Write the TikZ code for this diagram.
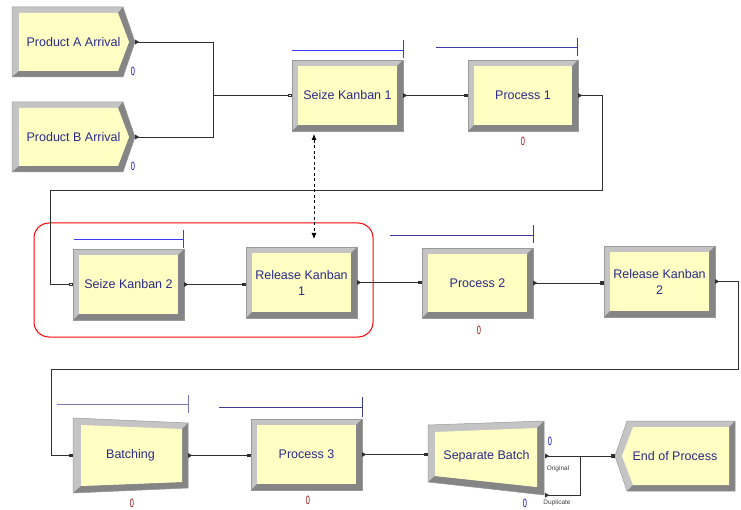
\documentclass[tikz,border=0pt]{standalone}
\usepackage{fontspec}
\setmainfont{Liberation Sans}
\usetikzlibrary{arrows.meta,calc}
\definecolor{bevlight}{HTML}{C4C4C4}
\definecolor{bevdark}{HTML}{858585}
\definecolor{bevedge}{HTML}{9A9A9A}
\definecolor{modfill}{HTML}{FFFFC4}
\definecolor{modtext}{HTML}{2A2A8A}
\definecolor{qbright}{HTML}{3A3AEE}
\definecolor{qdark}{HTML}{3C3C96}
\definecolor{cntblue}{HTML}{1010C0}
\definecolor{cntred}{HTML}{A01010}
\definecolor{linec}{HTML}{303030}
\tikzset{
  lbl/.style={inner sep=0pt, text=modtext, font=\fontsize{12.5}{16}\selectfont, align=center},
  conn/.style={draw=linec, line width=0.8pt, arrows={Triangle[reversed,length=4pt,width=4.5pt]-Square[length=3.5pt,width=3.5pt]}},
  connseize/.style={draw=linec, line width=0.8pt, arrows={Triangle[reversed,length=4pt,width=4.5pt]-Square[open,length=3.5pt,width=3.5pt]}},
  connfree/.style={draw=linec, line width=0.8pt, arrows={Triangle[reversed,length=4pt,width=4.5pt]-}},
  qbar/.style={line width=0.8pt},
  cnt/.style={inner sep=0pt, font=\fontsize{12}{12}\selectfont},
  small/.style={inner sep=0pt, text=black!75, font=\fontsize{6.5}{7}\selectfont},
  edge/.style={draw=bevedge, line width=0.5pt},
}
\newcommand\cz{\scalebox{0.62}[1]{0}}
\newcommand\bevrect[6]{%
  \fill[bevlight] (#2,#3) rectangle (#4,#5);
  \fill[bevdark] (#4,#3) -- (#4,#5) -- (#2,#5) -- ({#2+6},{#5-6}) -- ({#4-6},{#5-6}) -- ({#4-6},{#3+6}) -- cycle;
  \fill[modfill] ({#2+6},{#3+6}) rectangle ({#4-6},{#5-6});
  \draw[edge] (#2,#3) rectangle (#4,#5);
  \pgfmathsetmacro\bw{#4-#2}\pgfmathsetmacro\bh{#5-#3}%
  \node[lbl, minimum width=\bw pt, minimum height=\bh pt] (#1) at ({(#2+#4)/2},{(#3+#5)/2}) {#6};
}
\begin{document}
\begin{tikzpicture}[x=1pt,y=-1pt]
\useasboundingbox (0,0) rectangle (741,510);
\fill[white] (0,0) rectangle (741,510);

% ---------- Product A Arrival ----------
\fill[bevlight] (12,7) -- (123,7) -- (135,42) -- (123,77) -- (12,77) -- cycle;
\fill[bevdark] (123,7) -- (135,42) -- (123,77) -- (12,77) -- (19,71) -- (118,71) -- (129,42) -- (118,13) -- cycle;
\fill[modfill] (19,13) -- (118,13) -- (129,42) -- (118,71) -- (19,71) -- cycle;
\draw[edge] (12,7) -- (123,7) -- (135,42) -- (123,77) -- (12,77) -- cycle;
\node[lbl, minimum width=123pt, minimum height=70pt] (prodA) at (73.5,42) {Product A Arrival};
\node[cnt, text=cntblue] (cA) at (133,71) {\cz};

% ---------- Product B Arrival ----------
\fill[bevlight] (12,102) -- (123,102) -- (135,137) -- (123,172) -- (12,172) -- cycle;
\fill[bevdark] (123,102) -- (135,137) -- (123,172) -- (12,172) -- (19,166) -- (118,166) -- (129,137) -- (118,108) -- cycle;
\fill[modfill] (19,108) -- (118,108) -- (129,137) -- (118,166) -- (19,166) -- cycle;
\draw[edge] (12,102) -- (123,102) -- (135,137) -- (123,172) -- (12,172) -- cycle;
\node[lbl, minimum width=123pt, minimum height=70pt] (prodB) at (73.5,137) {Product B Arrival};
\node[cnt, text=cntblue] (cB) at (133,166) {\cz};

% ---------- rectangular modules ----------
\bevrect{seize1}{292}{60}{403}{131}{Seize Kanban 1}
\bevrect{proc1}{468}{60}{578}{131}{Process 1}
\bevrect{seize2}{73}{249}{184}{320}{Seize Kanban 2}
\bevrect{rel1}{246}{247}{357}{318}{Release Kanban\\1}
\bevrect{proc2}{422}{248}{533}{318}{Process 2}
\bevrect{rel2}{604}{246}{715}{317}{Release Kanban\\2}
\bevrect{proc3}{251}{419}{362}{490}{Process 3}

\node[cnt, text=cntred] (c1) at (523,141) {\cz};
\node[cnt, text=cntred] (c2) at (479,330) {\cz};
\node[cnt, text=cntred] (c3) at (308,500) {\cz};

% ---------- Batching ----------
\fill[bevlight] (73,418) -- (188,423) -- (188,488) -- (73,493) -- cycle;
\fill[bevdark] (188,423) -- (188,488) -- (73,493) -- (81,486) -- (182,482) -- (182,429) -- cycle;
\fill[modfill] (81,425) -- (182,429) -- (182,482) -- (81,486) -- cycle;
\draw[edge] (73,418) -- (188,423) -- (188,488) -- (73,493) -- cycle;
\node[lbl, minimum width=115pt, minimum height=75pt] (batch) at (130.5,455.5) {Batching};
\node[cnt, text=cntred] (cb) at (132,503) {\cz};

% ---------- Separate Batch ----------
\fill[bevlight] (428,425) -- (544,421) -- (544,495) -- (428,482) -- cycle;
\fill[bevdark] (544,421) -- (544,495) -- (428,482) -- (435,476) -- (537,487) -- (537,428) -- cycle;
\fill[modfill] (435,432) -- (537,428) -- (537,487) -- (435,476) -- cycle;
\draw[edge] (428,425) -- (544,421) -- (544,495) -- (428,482) -- cycle;
\node[lbl, minimum width=117pt, minimum height=78pt] (sep) at (486.5,456) {Separate Batch};
\node[cnt, text=cntblue] (cs1) at (550,441) {\cz};
\node[cnt, text=cntblue] (cs2) at (525,503) {\cz};
\node[small] (orig) at (558,469) {Original};
\node[small] (dup) at (557,503) {Duplicate};

% ---------- End of Process ----------
\fill[bevlight] (627,421) -- (735,421) -- (735,491) -- (627,491) -- (615,456) -- cycle;
\fill[bevdark] (735,421) -- (735,491) -- (627,491) -- (633,485) -- (729,485) -- (729,427) -- cycle;
\fill[modfill] (633,427) -- (729,427) -- (729,485) -- (633,485) -- (622,456) -- cycle;
\draw[edge] (627,421) -- (735,421) -- (735,491) -- (627,491) -- (615,456) -- cycle;
\node[lbl, minimum width=120pt, minimum height=70pt] (endp) at (675,456) {End of Process};

% ---------- queue bars ----------
\draw[qbar, qbright] (292,50) -- (403,50) (403,40) -- (403,58);
\draw[qbar, qdark!80!qbright] (436,47) -- (577,47) (577,38) -- (577,56);
\draw[qbar, qbright] (74,239) -- (183,239) (183,230) -- (183,248);
\draw[qbar, qdark] (390,235) -- (533,235) (533,225) -- (533,243);
\draw[qbar, qdark!70!white] (57,404) -- (188,404) (188,395) -- (188,413);
\draw[qbar, qdark] (219,407) -- (362,407) (362,397) -- (362,417);

% ---------- red group ----------
\draw[red, line width=1pt, rounded corners=15pt] (34,223) rectangle (373,337);

% ---------- connectors ----------
\coordinate (j1) at (213,95.5);
\coordinate (k1) at (602,190);
\coordinate (k2) at (50,190);
\coordinate (k3) at (738,369);
\coordinate (k4) at (51,369);
\coordinate (j2) at (580,456);
\coordinate (d1) at (314,134);
\coordinate (d2) at (314,239);

\draw[connseize] (prodA.east) -| (j1) -- (seize1.west);
\draw[connfree] (prodB.east) -| (j1);
\draw[conn] (seize1.east) -- (proc1.west);
\draw[connseize] (proc1.east) -| (k1) -- (k2) |- (seize2.west);
\draw[conn] (seize2.east) -- (seize2.east -| rel1.west);
\draw[conn] (rel1.east) -- (rel1.east -| proc2.west);
\draw[conn] (proc2.east) -- (proc2.east -| rel2.west);
\draw[conn] (rel2.east) -| (k3) -- (k4) |- (batch.west);
\draw[conn] (batch.east) -- (batch.east -| proc3.west);
\draw[conn] (proc3.east) -- (proc3.east -| sep.west);
\draw[conn] (sep.east) -- (endp.west);
\draw[connfree] (sep.south east) -| (j2);

\draw[black, line width=0.8pt, dashed, dash pattern=on 3pt off 2.5pt, arrows={Latex[length=6pt,width=5pt]-Latex[length=6pt,width=5pt]}] (d1) -- (d2);
\end{tikzpicture}
\end{document}
